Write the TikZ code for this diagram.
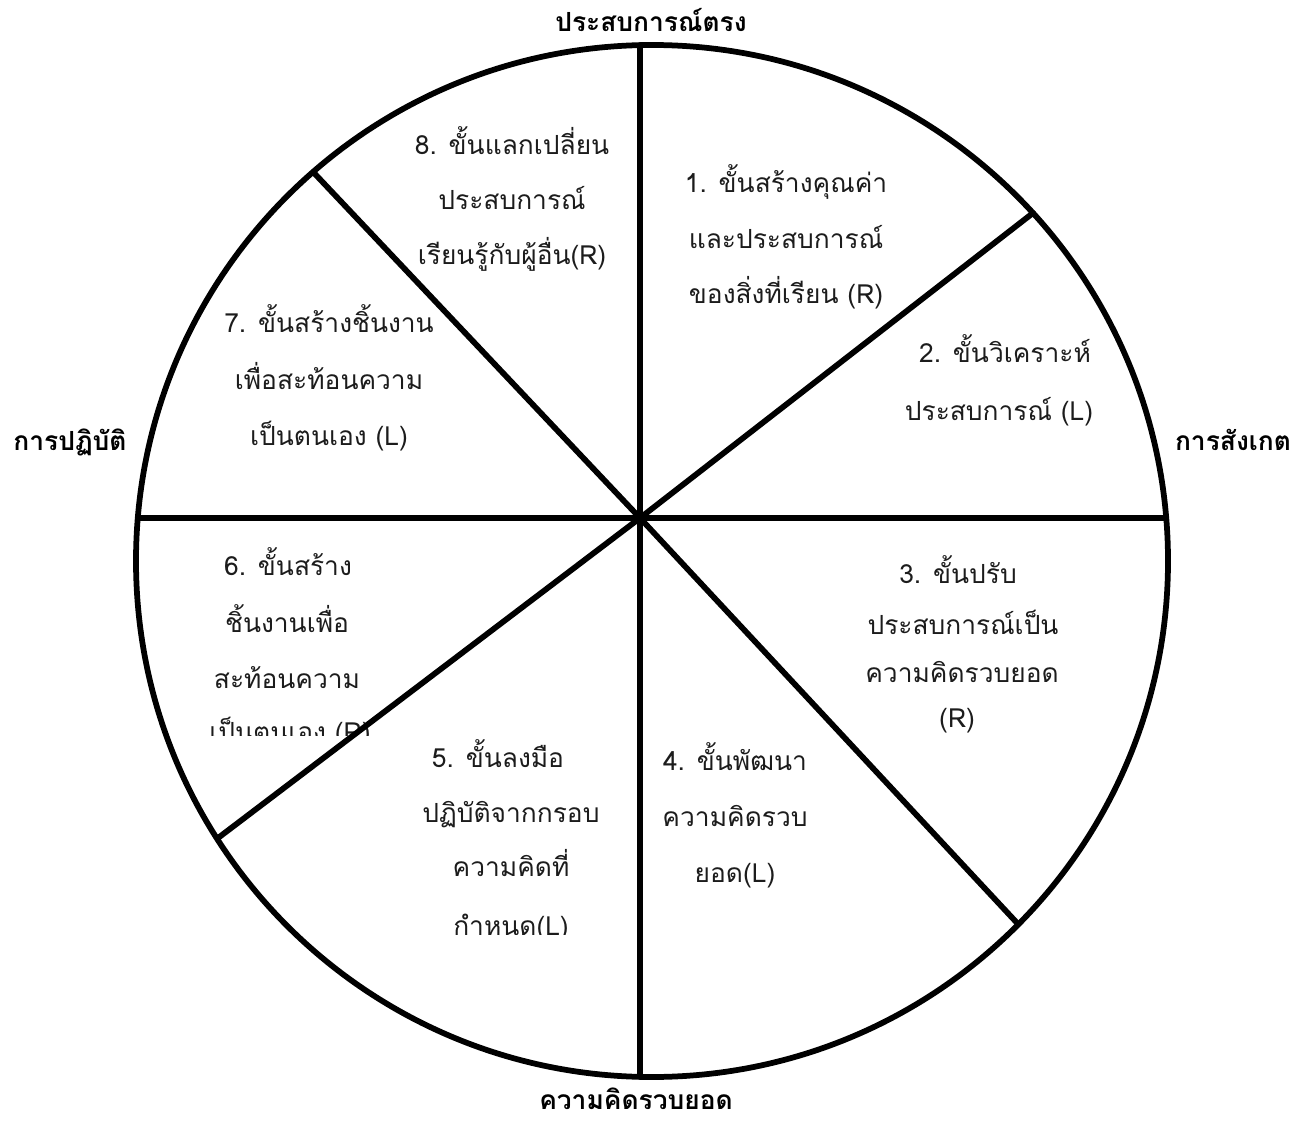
\documentclass[tikz,border=0pt]{standalone}
\usepackage{fontspec}
\usepackage{tikz}
\usepackage{xcolor}
\newfontfamily\thaifont[Script=Thai]{Loma}
\definecolor{wheelink}{HTML}{000000}
\definecolor{stepink}{HTML}{1C1C1C}

\begin{document}
\begin{tikzpicture}[x=0.02cm,y=-0.02cm,
  steplabel/.style={anchor=base,text=stepink,inner sep=0pt,font=\thaifont\fontsize{15}{18}\selectfont},
  headlabel/.style={anchor=base,text=wheelink,inner sep=0pt,font=\thaifont\bfseries\fontsize{15}{18}\selectfont},
  spoke/.style={wheelink,line width=0.115cm,line cap=round}]
\useasboundingbox (0,0) rectangle (1304,1121);
\node[headlabel] (hTop) at (651,32) {ประสบการณ์ตรง};
\node[headlabel] (hBottom) at (636,1109) {ความคิดรวบยอด};
\node[headlabel] (hLeft) at (70,450) {การปฏิบัติ};
\node[headlabel] (hRight) at (1233,450) {การสังเกต};
\node[steplabel] (s1a) at (786,193) {1. ขั้นสร้างคุณค่า};
\node[steplabel] (s1b) at (786,249) {และประสบการณ์};
\node[steplabel] (s1c) at (786,304) {ของสิ่งที่เรียน (R)};
\node[steplabel] (s2a) at (1005,363) {2. ขั้นวิเคราะห์};
\node[steplabel] (s2b) at (999,420) {ประสบการณ์ (L)};
\node[steplabel] (s3a) at (958,583) {3. ขั้นปรับ};
\node[steplabel] (s3b) at (963,634) {ประสบการณ์เป็น};
\node[steplabel] (s3c) at (962,682) {ความคิดรวบยอด};
\node[steplabel] (s3d) at (957,727) {(R)};
\node[steplabel] (s4a) at (735,770) {4. ขั้นพัฒนา};
\node[steplabel] (s4b) at (735,826) {ความคิดรวบ};
\node[steplabel] (s4c) at (735,882) {ยอด(L)};
\node[steplabel] (s5a) at (498,767) {5. ขั้นลงมือ};
\node[steplabel] (s5b) at (511,822) {ปฏิบัติจากกรอบ};
\node[steplabel] (s5c) at (511,876) {ความคิดที่};
\begin{scope}
\clip (380,880) rectangle (640,934);
\node[steplabel] (s5d) at (511,935) {กำหนด(L)};
\end{scope}
\node[steplabel] (s6a) at (288,575) {6. ขั้นสร้าง};
\node[steplabel] (s6b) at (287,632) {ชิ้นงานเพื่อ};
\node[steplabel] (s6c) at (287,688) {สะท้อนความ};
\begin{scope}
\clip (150,695) rectangle (420,735);
\node[steplabel] (s6d) at (290,741) {เป็นตนเอง (R)};
\end{scope}
\node[steplabel] (s7a) at (329,333) {7. ขั้นสร้างชิ้นงาน};
\node[steplabel] (s7b) at (329,390) {เพื่อสะท้อนความ};
\node[steplabel] (s7c) at (329,445) {เป็นตนเอง (L)};
\node[steplabel] (s8a) at (512,155) {8. ขั้นแลกเปลี่ยน};
\node[steplabel] (s8b) at (512,210) {ประสบการณ์};
\node[steplabel] (s8c) at (512,265) {เรียนรู้กับผู้อื่น(R)};
\coordinate (hub) at (640,518);
\coordinate (rimN) at (640,45);
\coordinate (rimNE) at (1033,213);
\coordinate (rimE) at (1166,518);
\coordinate (rimSE) at (1018,924);
\coordinate (rimS) at (640,1077);
\coordinate (rimSW) at (218,838);
\coordinate (rimW) at (138,518);
\coordinate (rimNW) at (315,174);
\foreach \r in {rimN,rimNE,rimE,rimSE,rimS,rimSW,rimW,rimNW}
  \draw[spoke] (hub) -- (\r);
\draw[wheelink,line width=0.115cm] (652,561) circle (516);
\end{tikzpicture}
\end{document}
